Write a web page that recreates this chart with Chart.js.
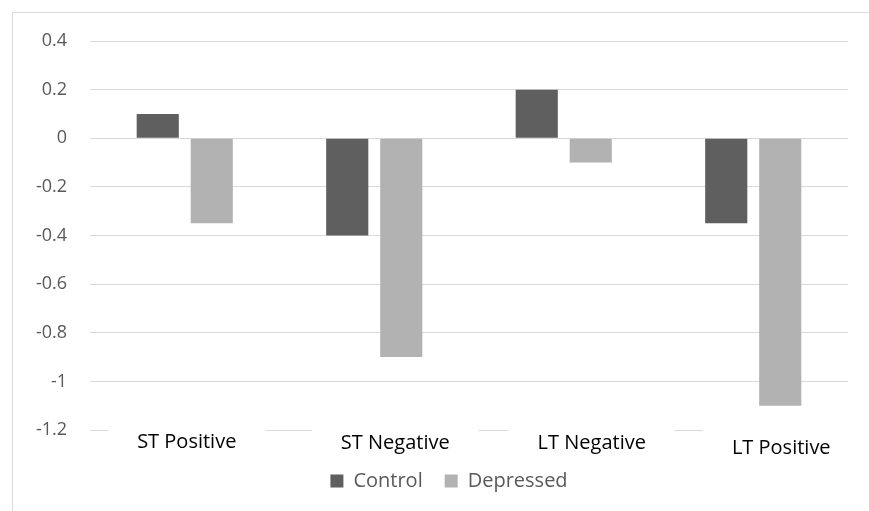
<!DOCTYPE html>
<html lang="en">
<head>
    <meta charset="UTF-8">
    <title>Control vs Depressed</title>
    <style>
        body {
            margin: 0;
            padding: 0;
            background-color: #ffffff;
        }
        #wrap {
            width: 869px;
            height: 511px;
        }
    </style>
    <script src="https://cdn.jsdelivr.net/npm/chart.js"></script>
</head>
<body>
    <div id="wrap">
        <canvas id="barChart" width="869" height="511"></canvas>
    </div>

    <script>
        // chart data
        const categories = ['ST Positive', 'ST Negative', 'LT Negative', 'LT Positive'];
        const controlValues = [0.1, -0.4, 0.2, -0.35];
        const depressedValues = [-0.35, -0.9, -0.1, -1.1];
        const yTicks = [0.4, 0.2, 0, -0.2, -0.4, -0.6, -0.8, -1, -1.2];

        const FONT = '"Open Sans", "Noto Sans", sans-serif';

        // thin frame on top / left like the exported picture
        const framePlugin = {
            id: 'frame',
            beforeDraw(chart) {
                const c = chart.ctx;
                c.save();
                c.strokeStyle = '#d9d9d9';
                c.lineWidth = 1;
                c.beginPath();
                c.moveTo(12.5, 511);
                c.lineTo(12.5, 12.5);
                c.lineTo(869, 12.5);
                c.stroke();
                c.restore();
            }
        };

        // legend in the original is a little right of centre
        const legendShift = {
            id: 'legendShift',
            afterLayout(chart) {
                chart.legend.left += 25;
                chart.legend.right += 25;
            }
        };

        // category labels sit over the bottom gridline with a white box behind them
        // (in the original they are a bit off-centre and not all on one line)
        const catLabelPlugin = {
            id: 'catLabels',
            afterDraw(chart) {
                const c = chart.ctx;
                const xs = chart.scales.x;
                const bottom = chart.chartArea.bottom;
                const shift = [2, 21, 28, 28];
                const drop = [12, 13, 13, 18];
                c.save();
                c.font = '20px ' + FONT;
                c.textAlign = 'center';
                c.textBaseline = 'middle';
                categories.forEach((label, i) => {
                    const x = xs.getPixelForValue(i) + shift[i];
                    const w = c.measureText(label).width;
                    c.fillStyle = '#ffffff';
                    c.fillRect(x - w / 2 - 29, bottom - 4, w + 58, 24);
                    c.fillStyle = '#000000';
                    c.fillText(label, x, bottom + drop[i]);
                });
                c.restore();
            }
        };

        const ctx = document.getElementById('barChart').getContext('2d');
        const barChart = new Chart(ctx, {
            type: 'bar',
            data: {
                labels: categories,
                datasets: [
                    {
                        label: 'Control',
                        data: controlValues,
                        backgroundColor: '#5f5f5f',
                        barPercentage: 0.78,
                        categoryPercentage: 0.57
                    },
                    {
                        label: 'Depressed',
                        data: depressedValues,
                        backgroundColor: '#b2b2b2',
                        barPercentage: 0.78,
                        categoryPercentage: 0.57
                    }
                ]
            },
            options: {
                responsive: false,
                animation: false,
                layout: {
                    padding: { top: 41, right: 21, left: 0, bottom: 10 }
                },
                plugins: {
                    tooltip: { enabled: false },
                    legend: {
                        position: 'bottom',
                        labels: {
                            color: '#595959',
                            font: { family: FONT, size: 20 },
                            boxWidth: 13,
                            boxHeight: 13,
                            padding: 22
                        }
                    }
                },
                scales: {
                    x: {
                        grid: { display: false },
                        border: { display: false },
                        ticks: { display: false },
                        afterFit(scale) {
                            scale.height = 19;
                        }
                    },
                    y: {
                        min: -1.2,
                        max: 0.4,
                        afterBuildTicks(scale) {
                            scale.ticks = yTicks.map(v => ({ value: v }));
                        },
                        afterFit(scale) {
                            scale.width = 90;
                        },
                        grid: {
                            color: '#d9d9d9',
                            lineWidth: 1,
                            drawTicks: false
                        },
                        border: { display: false },
                        ticks: {
                            color: '#595959',
                            padding: 23,
                            font: { family: FONT, size: 18 },
                            callback: v => String(Math.round(v * 10) / 10)
                        }
                    }
                }
            },
            plugins: [framePlugin, legendShift, catLabelPlugin]
        });
    </script>
</body>
</html>
